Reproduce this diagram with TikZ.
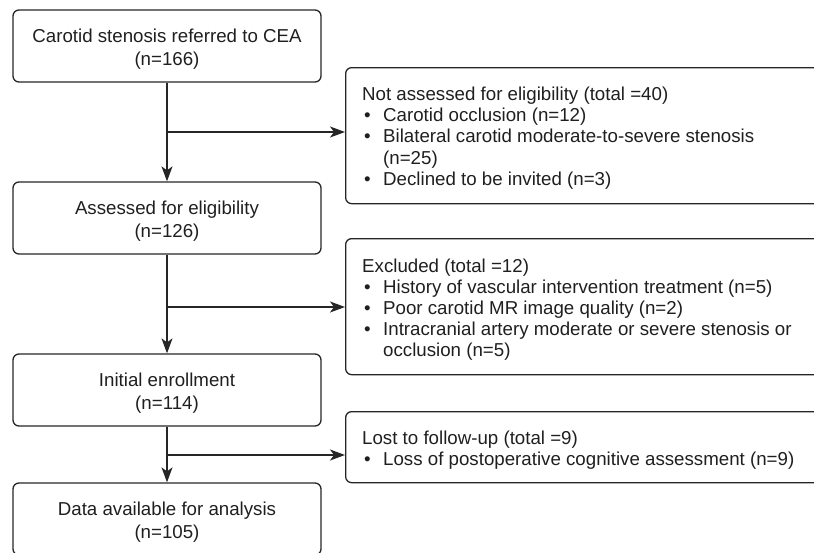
\documentclass[tikz,border=0pt]{standalone}
\usepackage{fontspec}
\setmainfont{Liberation Sans}
\usetikzlibrary{arrows.meta}
\newcommand\myfs{\fontsize{18.7pt}{23pt}\selectfont}
\begin{document}
\begin{tikzpicture}[x=1pt,y=-1pt,
  line/.style={draw=black!85, line width=1.3pt},
  lbox/.style={line, rounded corners=6pt, minimum width=308pt, minimum height=72pt, inner sep=0pt},
  ltxt/.style={align=center, inner sep=0pt, font=\myfs, text=black!88, yshift=-3.6pt},
  rbox/.style={line, rounded corners=6pt, minimum width=560pt, anchor=north west, inner sep=0pt},
  txt/.style={anchor=base west, inner sep=0pt, font=\myfs, text=black!88},
  arr/.style={line, -{Stealth[length=15pt,width=11pt,inset=4pt]}},
]
\useasboundingbox (0,0) rectangle (814,552);
\clip (0,0) rectangle (814,552);

% left column
\node[lbox] (b1) at (167,46) {};
\node[ltxt] (b1t) at (b1.center) {Carotid stenosis referred to CEA\\(n=166)};
\node[lbox] (b2) at (167,218) {};
\node[ltxt] (b2t) at (b2.center) {Assessed for eligibility\\(n=126)};
\node[lbox] (b3) at (167,390) {};
\node[ltxt] (b3t) at (b3.center) {Initial enrollment\\(n=114)};
\node[lbox] (b4) at (167,519) {};
\node[ltxt] (b4t) at (b4.center) {Data available for analysis\\(n=105)};

% right boxes
\node[rbox, minimum height=136pt] (r1) at (345,67) {};
\node[rbox, minimum height=136pt] (r2) at (345,238) {};
\node[rbox, minimum height=71pt] (r3) at (345,411) {};

% texts of r1
\node[txt] (r1a) at (362,100) {Not assessed for eligibility (total =40)};
\node[txt] (r1b1) at (364,121) {•};
\node[txt] (r1b) at (383,121) {Carotid occlusion (n=12)};
\node[txt] (r1c1) at (364,142) {•};
\node[txt] (r1c) at (383,142) {Bilateral carotid moderate-to-severe stenosis};
\node[txt] (r1d) at (383,164) {(n=25)};
\node[txt] (r1e1) at (364,185) {•};
\node[txt] (r1e) at (383,185) {Declined to be invited (n=3)};

% texts of r2
\node[txt] (r2a) at (362,272) {Excluded (total =12)};
\node[txt] (r2b1) at (364,293) {•};
\node[txt] (r2b) at (383,293) {History of vascular intervention treatment (n=5)};
\node[txt] (r2c1) at (364,314) {•};
\node[txt] (r2c) at (383,314) {Poor carotid MR image quality (n=2)};
\node[txt] (r2d1) at (364,335) {•};
\node[txt] (r2d) at (383,335) {Intracranial artery moderate or severe stenosis or};
\node[txt] (r2e) at (383,356.5) {occlusion (n=5)};

% texts of r3
\node[txt] (r3a) at (362,444) {Lost to follow-up (total =9)};
\node[txt] (r3b1) at (364,465) {•};
\node[txt] (r3b) at (383,465) {Loss of postoperative cognitive assessment (n=9)};

% connectors
\draw[arr] (b1) -- (b2);
\draw[arr] (b2) -- (b3);
\draw[arr] (b3) -- (b4);
\coordinate (j1) at (167,132);
\coordinate (j2) at (167,307);
\coordinate (j3) at (167,455);
\draw[arr] (j1) -- (j1 -| r1.west);
\draw[arr] (j2) -- (j2 -| r2.west);
\draw[arr] (j3) -- (j3 -| r3.west);
\end{tikzpicture}
\end{document}
